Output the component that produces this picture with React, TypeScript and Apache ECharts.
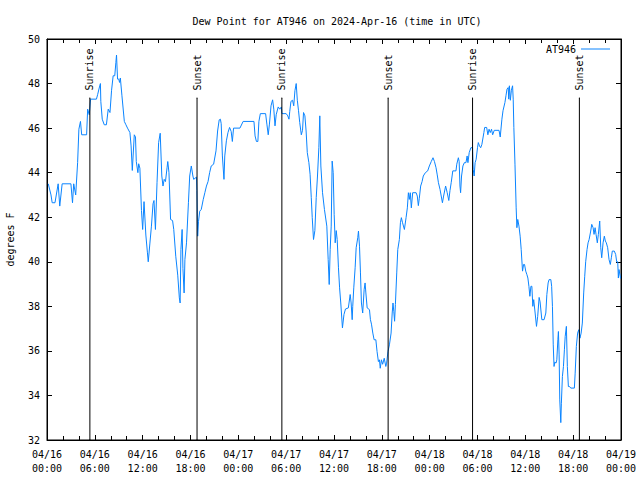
import React, { useEffect, useRef } from "react";
import * as echarts from "echarts";

// Dew point (°F) readings, [hours since 2024-04-16 00:00 UTC, value]
const apr16: [number, number][] = [
  [0.16, 43.5], [0.5, 43.0], [0.65, 42.65], [1.0, 42.65], [1.4, 43.5], [1.6, 42.5], [1.9, 43.5],
  [3.0, 43.5], [3.2, 42.65], [3.35, 43.5], [3.6, 43.0], [3.84, 44.45], [4.0, 45.95], [4.2, 46.3],
  [4.35, 45.7], [4.97, 45.7], [5.1, 46.85], [5.3, 46.6], [5.47, 47.3], [6.2, 47.3], [6.35, 47.5],
  [6.55, 47.8], [6.7, 48.0], [6.75, 47.2], [6.93, 46.4], [7.18, 46.15], [7.45, 46.15], [7.68, 46.85],
  [7.9, 46.7], [8.1, 47.7], [8.3, 48.35], [8.5, 48.35], [8.64, 48.95], [8.72, 49.28], [8.85, 48.2],
  [9.0, 48.2], [9.1, 48.05], [9.2, 48.25], [9.4, 47.45], [9.7, 46.3], [9.9, 46.15], [10.1, 46.0],
  [10.4, 45.8], [10.55, 45.2], [10.7, 44.1], [10.95, 45.7], [11.1, 45.6], [11.2, 44.5], [11.4, 44.0],
  [11.5, 44.4], [11.65, 44.2], [11.85, 42.3], [12.0, 41.45], [12.17, 42.7], [12.4, 41.2], [12.6, 40.4],
  [12.7, 40.0], [12.9, 40.8], [13.1, 41.6], [13.3, 42.6], [13.42, 42.75], [13.6, 41.45], [13.8, 43.55],
  [14.0, 45.35], [14.2, 45.77], [14.4, 43.85], [14.55, 43.4], [14.7, 43.7], [14.86, 43.6], [15.06, 44.22],
  [15.15, 44.5], [15.3, 44.0], [15.5, 41.9], [15.75, 41.85], [15.9, 41.45], [16.15, 40.25], [16.4, 39.4],
  [16.6, 38.38], [16.7, 38.15], [16.8, 40.55], [16.95, 41.45], [17.05, 39.7], [17.2, 38.6], [17.3, 40.1],
  [17.5, 40.85], [17.74, 42.65], [17.9, 43.85], [18.1, 44.3], [18.3, 43.85], [18.4, 43.7], [18.75, 43.8],
  [18.8, 43.2], [18.9, 41.15], [19.0, 41.8], [19.16, 42.27], [19.35, 42.35], [19.6, 42.8], [19.8, 43.1],
  [20.0, 43.4], [20.2, 43.6], [20.4, 44.0], [20.6, 44.3], [20.9, 44.38], [21.2, 44.98], [21.4, 45.87],
  [21.6, 46.37], [21.75, 46.4], [21.85, 46.2], [22.0, 44.75], [22.2, 43.7], [22.3, 44.75], [22.5, 45.43],
  [22.7, 45.8], [22.9, 46.03], [23.1, 45.85], [23.25, 45.4], [23.4, 46.0],
];

const apr17: [number, number][] = [
  [24.2, 46.0], [24.6, 46.3], [25.96, 46.3], [26.1, 45.65], [26.27, 45.4], [26.45, 45.4], [26.58, 46.3],
  [26.76, 46.65], [27.42, 46.65], [27.58, 46.18], [27.75, 45.7], [27.9, 46.18], [28.1, 47.0], [28.3, 47.27],
  [28.45, 46.85], [28.6, 46.1], [28.75, 46.6], [29.0, 46.95], [29.2, 46.85], [29.4, 46.95], [29.47, 46.65],
  [30.0, 46.65], [30.2, 46.55], [30.35, 46.4], [30.45, 46.75], [30.6, 47.2], [30.8, 47.25], [30.95, 47.0],
  [31.1, 47.68], [31.26, 48.0], [31.4, 47.25], [31.55, 46.78], [31.7, 46.25], [31.9, 45.7], [32.05, 45.9],
  [32.18, 46.7], [32.35, 46.55], [32.5, 45.87], [32.65, 44.9], [32.85, 44.45], [33.0, 43.93], [33.15, 42.88],
  [33.27, 41.98], [33.43, 41.0], [33.6, 41.4], [33.77, 42.88], [33.93, 43.85], [34.1, 45.12], [34.22, 46.55],
  [34.35, 44.3], [34.56, 43.1], [34.8, 42.35], [35.1, 41.6], [35.27, 40.1], [35.4, 38.98], [35.52, 40.55],
  [35.65, 41.6], [35.77, 44.52], [35.9, 44.0], [36.02, 42.13], [36.15, 40.85], [36.28, 41.4], [36.4, 41.0],
  [36.56, 39.73], [36.7, 38.83], [36.85, 38.15], [37.06, 37.03], [37.25, 37.63], [37.44, 37.88], [37.8, 37.93],
  [38.03, 38.53], [38.15, 38.15], [38.28, 37.4], [38.35, 38.0], [38.48, 38.83], [38.65, 39.73], [38.78, 40.63],
  [38.98, 41.08], [39.07, 41.38], [39.2, 40.7], [39.32, 39.5], [39.44, 38.15], [39.6, 37.7], [39.78, 38.75],
  [39.9, 39.05], [40.0, 38.6], [40.16, 37.93], [40.45, 37.85], [40.57, 37.4], [40.7, 37.2], [40.87, 36.8],
  [41.03, 36.5], [41.25, 36.5], [41.4, 35.97], [41.57, 35.52], [41.7, 35.6], [41.8, 35.22], [41.95, 35.6],
  [42.1, 35.4], [42.3, 35.67], [42.5, 35.3], [42.6, 35.45], [42.77, 35.97], [42.95, 36.27], [43.16, 36.8],
  [43.3, 37.7], [43.4, 38.15], [43.5, 37.78], [43.6, 37.33], [43.7, 38.08], [43.87, 39.5], [44.0, 40.55],
  [44.2, 41.0], [44.33, 41.75], [44.45, 41.98], [44.6, 41.75], [44.83, 41.45], [45.04, 41.98], [45.2, 42.42],
  [45.33, 43.1], [45.45, 42.8], [45.57, 43.1], [45.7, 42.42], [45.87, 43.1], [46.3, 43.1], [46.45, 42.95],
  [46.58, 42.52], [46.7, 42.85], [46.87, 43.4], [47.05, 43.6], [47.2, 43.85], [47.46, 44.0], [47.75, 44.08],
];

const apr18: [number, number][] = [
  [47.96, 44.3], [48.2, 44.5], [48.42, 44.67], [48.6, 44.5], [48.8, 44.22], [48.95, 43.9], [49.1, 43.55],
  [49.3, 43.25], [49.6, 42.65], [49.75, 42.95], [50.0, 43.4], [50.2, 43.1], [50.4, 42.75], [50.55, 43.2],
  [50.7, 43.55], [50.9, 44.08], [51.3, 44.08], [51.4, 44.38], [51.6, 44.67], [51.7, 44.5], [51.8, 43.4],
  [51.88, 43.1], [52.0, 43.85], [52.17, 44.3], [52.35, 44.45], [52.55, 44.45], [52.7, 44.75], [52.8, 44.45],
  [52.96, 44.9], [53.17, 45.12], [53.38, 45.12], [53.46, 44.15], [53.58, 43.85], [53.7, 44.45], [53.83, 44.6],
  [54.0, 45.12], [54.1, 45.35], [54.25, 45.2], [54.4, 45.12], [54.55, 45.27], [54.8, 45.8], [54.9, 46.03],
  [55.15, 46.03], [55.3, 45.7], [55.45, 45.95], [55.6, 45.8], [55.76, 45.95], [55.9, 45.7], [56.1, 45.9],
  [56.7, 45.9], [56.85, 45.6], [57.06, 46.4], [57.2, 46.78], [57.44, 47.15], [57.57, 47.45], [57.7, 47.75],
  [57.85, 47.82], [57.92, 47.3], [58.0, 47.9], [58.12, 47.25], [58.25, 47.7], [58.4, 47.9], [58.48, 47.3],
  [58.56, 46.03], [58.7, 44.38], [58.85, 42.42], [58.94, 41.53], [59.05, 41.9], [59.2, 41.6], [59.35, 41.15],
  [59.48, 40.55], [59.65, 39.58], [59.78, 39.88], [59.9, 39.88], [60.05, 39.58], [60.2, 39.42], [60.32, 39.27],
  [60.45, 38.9], [60.57, 38.45], [60.7, 38.9], [60.82, 38.9], [60.94, 38.0], [61.05, 38.3], [61.23, 37.7],
  [61.4, 37.1], [61.55, 37.55], [61.73, 38.4], [61.85, 38.2], [62.07, 37.4], [62.35, 37.4], [62.57, 37.7],
  [62.7, 38.53], [62.86, 39.05], [62.98, 39.2], [63.2, 39.2], [63.3, 38.9], [63.4, 38.0], [63.5, 36.27],
  [63.6, 35.3], [63.7, 35.5], [63.85, 35.45], [63.95, 35.6], [64.08, 36.5], [64.15, 36.87], [64.24, 35.82],
  [64.32, 33.8], [64.45, 32.78], [64.52, 33.65], [64.65, 34.85], [64.78, 35.3], [64.9, 36.05], [65.0, 36.65],
  [65.15, 37.1], [65.27, 35.3], [65.4, 34.4], [65.55, 34.4], [65.7, 34.33], [66.15, 34.33], [66.25, 35.0],
  [66.4, 36.2], [66.56, 36.8], [66.7, 36.95], [66.85, 36.57], [67.0, 36.8], [67.15, 37.25], [67.32, 38.6],
  [67.45, 39.35], [67.57, 40.0], [67.74, 40.55], [67.87, 40.85], [68.0, 41.0], [68.2, 41.38], [68.33, 41.68],
  [68.5, 41.53], [68.62, 41.23], [68.75, 41.53], [68.87, 41.23], [69.03, 40.85], [69.16, 41.23], [69.33, 41.83],
  [69.46, 40.63], [69.58, 40.18], [69.75, 40.85], [69.91, 41.15], [70.04, 40.93], [70.16, 40.85], [70.33, 40.63],
  [70.5, 40.1], [70.66, 39.88], [70.79, 40.18], [70.91, 40.48], [71.16, 40.48], [71.33, 40.33], [71.46, 40.0],
  [71.59, 40.0], [71.67, 39.27], [71.75, 39.65], [71.95, 39.25],
];

const sunEventNames = ["Sunrise", "Sunset", "Sunrise", "Sunset", "Sunrise", "Sunset"];
const sunEventHours = [5.38, 18.82, 29.46, 42.79, 53.38, 66.78];
const sunLineTop = 47.35;

const xTickDates = ["04/16", "04/16", "04/16", "04/16", "04/17", "04/17", "04/17", "04/17", "04/18", "04/18", "04/18", "04/18", "04/19"];
const xTickTimes = ["00:00", "06:00", "12:00", "18:00", "00:00", "06:00", "12:00", "18:00", "00:00", "06:00", "12:00", "18:00", "00:00"];

const FONT = "DejaVu Sans Mono";
const BLUE = "#0a84ff";

export default function App() {
  const ref = useRef<HTMLDivElement>(null);
  useEffect(() => {
    if (!ref.current) return;
    const chart = echarts.init(ref.current, undefined, { renderer: "svg" });
    const textStyle = { fontFamily: FONT, fontSize: 10, color: "#000" };
    const xBase = {
      type: "value" as const,
      gridIndex: 0,
      min: 0,
      max: 72,
      interval: 6,
      axisLine: { show: true, onZero: false, lineStyle: { color: "#000", width: 1 } },
      axisTick: { show: true, inside: true, length: 5, lineStyle: { color: "#000" } },
      minorTick: { show: true, splitNumber: 3, length: 4, lineStyle: { color: "#000" } },
      splitLine: { show: false },
    };
    const yBase = {
      type: "value" as const,
      gridIndex: 0,
      min: 32,
      max: 50,
      interval: 2,
      axisLine: { show: true, onZero: false, lineStyle: { color: "#000", width: 1 } },
      axisTick: { show: true, inside: true, length: 5, lineStyle: { color: "#000" } },
      splitLine: { show: false },
    };
    const sunSeries = sunEventHours.map((h, i) => ({
      type: "line",
      name: sunEventNames[i] + i,
      silent: true,
      symbol: "circle",
      symbolSize: 1,
      showSymbol: true,
      lineStyle: { color: "#000", width: 1 },
      itemStyle: { color: "#000" },
      data: [
        {
          value: [h, sunLineTop],
          label: {
            show: true,
            formatter: sunEventNames[i],
            position: "top",
            distance: 7,
            rotate: 90,
            align: "left",
            verticalAlign: "middle",
            ...textStyle,
          },
        },
        { value: [h, 32], label: { show: false } },
      ],
    }));
    chart.setOption({
      animation: false,
      title: {
        text: "Dew Point for AT946 on 2024-Apr-16 (time in UTC)",
        left: 332,
        textAlign: "center",
        top: 11,
        textStyle: { ...textStyle, fontWeight: "normal" },
      },
      legend: {
        data: ["AT946"],
        right: 25,
        top: 39,
        align: "right",
        icon: "rect",
        itemWidth: 29,
        itemHeight: 1,
        itemGap: 6,
        textStyle,
      },
      grid: {
        left: 47,
        right: 19,
        top: 39,
        bottom: 40,
        show: true,
        borderColor: "#000",
        borderWidth: 1,
        backgroundColor: "transparent",
        outerBoundsMode: "none",
        containLabel: false,
      },
      xAxis: [
        {
          ...xBase,
          position: "bottom",
          axisLabel: {
            ...textStyle,
            lineHeight: 14,
            margin: 7,
            formatter: (v: number) => {
              const i = Math.round(v / 6);
              return xTickDates[i] + "\n" + xTickTimes[i];
            },
          },
        },
        { ...xBase, position: "top", axisLabel: { show: false } },
      ],
      yAxis: [
        {
          ...yBase,
          position: "left",
          name: "degrees F",
          nameLocation: "middle",
          nameRotate: 90,
          nameGap: 32,
          nameTextStyle: textStyle,
          axisLabel: { ...textStyle, margin: 7 },
        },
        { ...yBase, position: "right", offset: 0, axisLabel: { show: false } },
      ],
      series: [
        {
          type: "line",
          name: "AT946",
          symbol: "none",
          color: BLUE,
          lineStyle: { color: BLUE, width: 1 },
          data: [...apr16, ...apr17, ...apr18],
          z: 3,
          markLine: {
            silent: true,
            symbol: "none",
            label: { show: false },
            lineStyle: { color: "#000", width: 1, type: "solid" },
            data: [[{ coord: [72, 32] }, { coord: [72, 50] }]],
          },
        },
        ...sunSeries,
      ],
    });
    return () => chart.dispose();
  }, []);
  return <div ref={ref} style={{ position: "absolute", left: 0, top: 0, width: 640, height: 480 }} />;
}
